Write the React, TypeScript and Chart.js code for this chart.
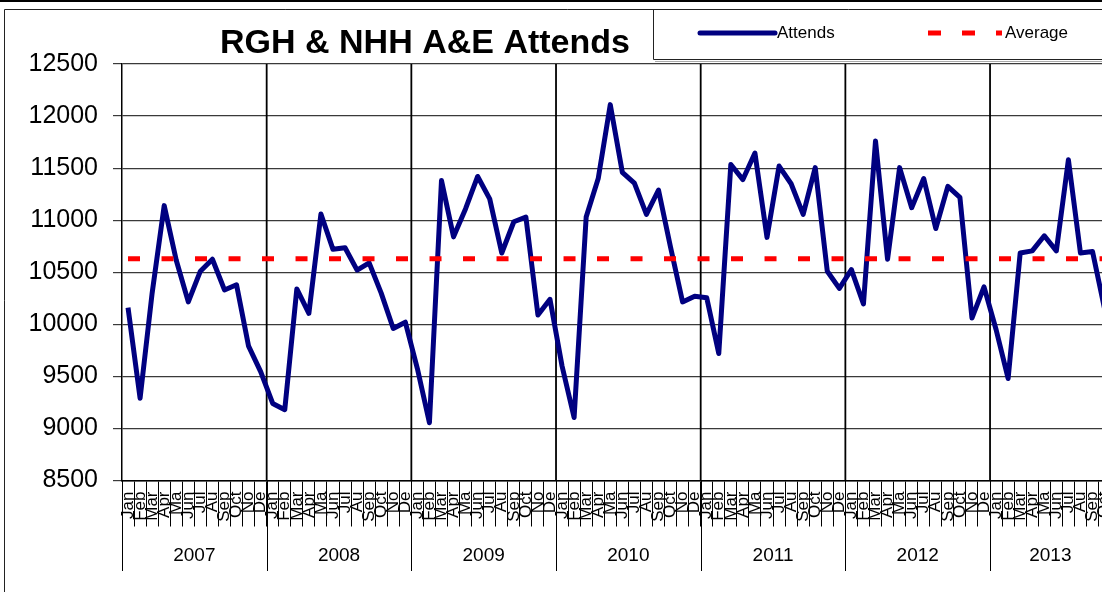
import React, { useEffect, useRef } from "react";
import { Chart, registerables } from "chart.js";

Chart.register(...registerables);

// ---------- data ----------
const TITLE = "RGH & NHH A&E Attends";
const YEARS = ["2007", "2008", "2009", "2010", "2011", "2012", "2013"];
const MONTHS = ["Jan", "Feb", "Mar", "Apr", "Ma", "Jun", "Jul", "Au", "Sep", "Oct", "No", "De"];
const MONTHS_SHOWN_LAST_YEAR = 10;

const ATTENDS_2007 = [10160, 9290, 10300, 11140, 10615, 10215, 10510, 10625, 10330, 10380, 9790, 9545];
const ATTENDS_2008 = [9240, 9180, 10340, 10105, 11060, 10720, 10735, 10520, 10590, 10300, 9960, 10020];
const ATTENDS_2009 = [9575, 9055, 11380, 10840, 11110, 11420, 11205, 10685, 10985, 11030, 10090, 10240];
const ATTENDS_2010 = [9600, 9105, 11030, 11400, 12110, 11460, 11355, 11055, 11290, 10740, 10215, 10270];
const ATTENDS_2011 = [10255, 9720, 11535, 11390, 11645, 10835, 11520, 11350, 11055, 11505, 10510, 10345];
const ATTENDS_2012 = [10525, 10195, 11760, 10625, 11505, 11120, 11400, 10920, 11325, 11220, 10060, 10360];
const ATTENDS_2013 = [9950, 9480, 10685, 10705, 10850, 10705, 11580, 10685, 10700, 10150];

const AVERAGE = 10630;

const Y_MIN = 8500;
const Y_MAX = 12500;
const Y_STEP = 500;

// ---------- derived tables ----------
const CATEGORY_LABELS: string[] = [];
YEARS.forEach((y, k) => {
  const n = k === YEARS.length - 1 ? MONTHS_SHOWN_LAST_YEAR : 12;
  for (let m = 0; m < n; m++) CATEGORY_LABELS.push(MONTHS[m]);
});
const ATTENDS = [
  ...ATTENDS_2007,
  ...ATTENDS_2008,
  ...ATTENDS_2009,
  ...ATTENDS_2010,
  ...ATTENDS_2011,
  ...ATTENDS_2012,
  ...ATTENDS_2013,
];
const AVERAGE_LINE = CATEGORY_LABELS.map(() => AVERAGE);

const FONT = '"Liberation Sans", Arial, sans-serif';

const decorPlugin = {
  id: "excelDecor",
  beforeDatasetsDraw(chart: any) {
    const { ctx, chartArea, scales } = chart;
    const x = scales.x;
    const half = (x.getPixelForValue(1) - x.getPixelForValue(0)) / 2;
    ctx.save();
    ctx.strokeStyle = "#000";
    ctx.lineWidth = 1.8;
    for (let k = 1; k < YEARS.length; k++) {
      const px = x.getPixelForValue(k * 12) - half;
      ctx.beginPath();
      ctx.moveTo(px, chartArea.top);
      ctx.lineTo(px, chartArea.bottom);
      ctx.stroke();
    }
    ctx.restore();
  },
  afterDraw(chart: any) {
    const { ctx, chartArea, scales, width, height } = chart;
    const x = scales.x;
    const half = (x.getPixelForValue(1) - x.getPixelForValue(0)) / 2;
    ctx.save();

    // year level of the category axis
    ctx.strokeStyle = "#000";
    ctx.lineWidth = 1;
    const yearBottom = chartArea.bottom + 90.5;
    const bounds: number[] = [];
    for (let k = 0; k < YEARS.length; k++) bounds.push(x.getPixelForValue(k * 12) - half);
    bounds.push(x.getPixelForValue(CATEGORY_LABELS.length - 1) + half);
    bounds.forEach((px) => {
      ctx.beginPath();
      ctx.moveTo(Math.round(px) + 0.5, chartArea.bottom);
      ctx.lineTo(Math.round(px) + 0.5, yearBottom);
      ctx.stroke();
    });
    ctx.fillStyle = "#000";
    ctx.font = `19px ${FONT}`;
    ctx.textAlign = "center";
    ctx.textBaseline = "middle";
    YEARS.forEach((y, k) => {
      ctx.fillText(y, (bounds[k] + bounds[k + 1]) / 2, chartArea.bottom + 75);
    });

    // outer frame
    ctx.fillStyle = "#000";
    ctx.fillRect(0, 0, width, 2);
    ctx.strokeStyle = "#222";
    ctx.lineWidth = 1;
    ctx.beginPath();
    ctx.moveTo(4.5, height);
    ctx.lineTo(4.5, 9.5);
    ctx.lineTo(width, 9.5);
    ctx.stroke();

    // title
    ctx.fillStyle = "#000";
    ctx.font = `bold 34px ${FONT}`;
    ctx.textAlign = "center";
    ctx.textBaseline = "alphabetic";
    ctx.fillText(TITLE, 425, 53);

    // legend box
    ctx.strokeStyle = "#222";
    ctx.lineWidth = 1;
    ctx.beginPath();
    ctx.moveTo(653.5, 9.5);
    ctx.lineTo(653.5, 59.5);
    ctx.lineTo(width, 59.5);
    ctx.stroke();
    ctx.strokeStyle = "#aaa";
    ctx.beginPath();
    ctx.moveTo(655, 61.5);
    ctx.lineTo(width, 61.5);
    ctx.stroke();

    // legend items
    const ds = chart.data.datasets;
    const items = [
      { d: ds[0], x0: 700, x1: 775, tx: 777, cap: "round" },
      { d: ds[1], x0: 928, x1: 1002, tx: 1005, cap: "butt" },
    ];
    const ly = 33;
    items.forEach((it) => {
      ctx.save();
      ctx.strokeStyle = it.d.borderColor;
      ctx.lineWidth = it.d.borderWidth;
      ctx.lineCap = it.cap;
      ctx.setLineDash(it.d.borderDash ? [13, 21] : []);
      ctx.beginPath();
      ctx.moveTo(it.x0, ly);
      ctx.lineTo(it.x1, ly);
      ctx.stroke();
      ctx.restore();
      ctx.fillStyle = "#000";
      ctx.font = `17px ${FONT}`;
      ctx.textAlign = "left";
      ctx.textBaseline = "middle";
      ctx.fillText(it.d.label, it.tx, ly);
    });

    ctx.restore();
  },
};

export default function App() {
  const canvasRef = useRef<HTMLCanvasElement | null>(null);

  useEffect(() => {
    if (!canvasRef.current) return;
    const chart = new Chart(canvasRef.current, {
      type: "line",
      data: {
        labels: CATEGORY_LABELS,
        datasets: [
          {
            label: "Attends",
            data: ATTENDS,
            borderColor: "#000080",
            backgroundColor: "#000080",
            borderWidth: 5,
            pointRadius: 0,
            tension: 0,
            fill: false,
            borderJoinStyle: "round",
            order: 1,
          },
          {
            label: "Average",
            data: AVERAGE_LINE,
            borderColor: "#FF0000",
            backgroundColor: "#FF0000",
            borderWidth: 5,
            borderDash: [12, 21.5],
            borderCapStyle: "butt",
            pointRadius: 0,
            tension: 0,
            fill: false,
            order: 0,
          },
        ],
      },
      options: {
        responsive: false,
        animation: false,
        layout: { padding: { top: 64, right: 19.4, bottom: 0, left: 0 } },
        plugins: {
          legend: { display: false },
          title: { display: false },
          tooltip: { enabled: false },
        },
        scales: {
          x: {
            type: "category",
            offset: true,
            afterFit: (scale: any) => {
              scale.height = 111.5;
            },
            grid: {
              display: true,
              offset: true,
              drawOnChartArea: false,
              drawTicks: true,
              tickLength: 46,
              color: "#000",
              lineWidth: 1,
            },
            border: { display: true, color: "#000", width: 1.5 },
            ticks: {
              autoSkip: false,
              minRotation: 90,
              maxRotation: 90,
              padding: -35,
              color: "#000",
              font: { family: FONT, size: 17 },
            },
          },
          y: {
            min: Y_MIN,
            max: Y_MAX,
            afterFit: (scale: any) => {
              scale.width = 122;
            },
            grid: {
              color: "#3a3a3a",
              lineWidth: 1.2,
              drawTicks: true,
              tickLength: 9,
            },
            border: { display: true, color: "#000", width: 1.5 },
            ticks: {
              stepSize: Y_STEP,
              autoSkip: false,
              padding: 15,
              color: "#000",
              font: { family: FONT, size: 25 },
              callback: (v: any) => String(v),
            },
          },
        },
      },
      plugins: [decorPlugin],
    });
    return () => chart.destroy();
  }, []);

  return (
    <div
      style={{
        position: "fixed",
        left: 0,
        top: 0,
        width: 1102,
        height: 592,
        overflow: "hidden",
        background: "#fff",
      }}
    >
      <canvas ref={canvasRef} width={1130} height={592} style={{ display: "block" }} />
    </div>
  );
}
